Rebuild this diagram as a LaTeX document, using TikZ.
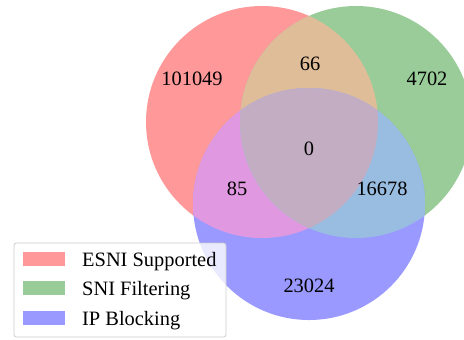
\documentclass[tikz,border=0pt]{standalone}
\usepackage{fontspec}
\setmainfont{Liberation Serif}
\definecolor{cR}{RGB}{255,153,153}
\definecolor{cG}{RGB}{153,204,153}
\definecolor{cB}{RGB}{153,153,255}
\definecolor{cRG}{RGB}{224,189,153}
\definecolor{cRB}{RGB}{224,153,224}
\definecolor{cGB}{RGB}{153,189,224}
\definecolor{cRGB}{RGB}{194,173,194}
\definecolor{legframe}{RGB}{204,204,204}
\tikzset{
  num/.style={inner sep=0pt, font=\fontsize{20.4bp}{24bp}\selectfont},
  legtext/.style={anchor=base west, inner sep=0pt, font=\fontsize{20.4bp}{24bp}\selectfont},
  patch/.style={minimum width=42bp, minimum height=14bp, inner sep=0pt, draw=none}
}
\begin{document}
\begin{tikzpicture}[x=1bp,y=-1bp]
\useasboundingbox (0,0) rectangle (464,339);
\def\rad{116}
\coordinate (cr) at (262,122);
\coordinate (cg) at (356,122);
\coordinate (cb) at (309,204);
% single sets
\fill[cR] (cr) circle (\rad);
\fill[cG] (cg) circle (\rad);
\fill[cB] (cb) circle (\rad);
% pairwise
\begin{scope}
  \clip (cr) circle (\rad);
  \fill[cRG] (cg) circle (\rad);
  \fill[cRB] (cb) circle (\rad);
\end{scope}
\begin{scope}
  \clip (cg) circle (\rad);
  \fill[cGB] (cb) circle (\rad);
\end{scope}
\begin{scope}
  \clip (cr) circle (\rad);
  \clip (cg) circle (\rad);
  \fill[cRGB] (cb) circle (\rad);
\end{scope}
% labels
\node[num] (n100) at (192,79) {101049};
\node[num] (n110) at (310,64) {66};
\node[num] (n010) at (427,79) {4702};
\node[num] (n111) at (309,148.5) {0};
\node[num] (n101) at (237,189) {85};
\node[num] (n011) at (382,189) {16678};
\node[num] (n001) at (309,286) {23024};
% legend
\node[draw=legframe, fill=white, fill opacity=0.8, rounded corners=2.5bp, line width=0.8bp,
      minimum width=212bp, minimum height=94bp, inner sep=0pt] (leg) at (120,290) {};
\node[patch, fill=cR] (p1) at (44,258.7) {};
\node[patch, fill=cG] (p2) at (44,288.2) {};
\node[patch, fill=cB] (p3) at (44,317.7) {};
\node[legtext] (t1) at (82,266) {ESNI Supported};
\node[legtext] (t2) at (82,295.5) {SNI Filtering};
\node[legtext] (t3) at (82,325) {IP Blocking};
\end{tikzpicture}
\end{document}
